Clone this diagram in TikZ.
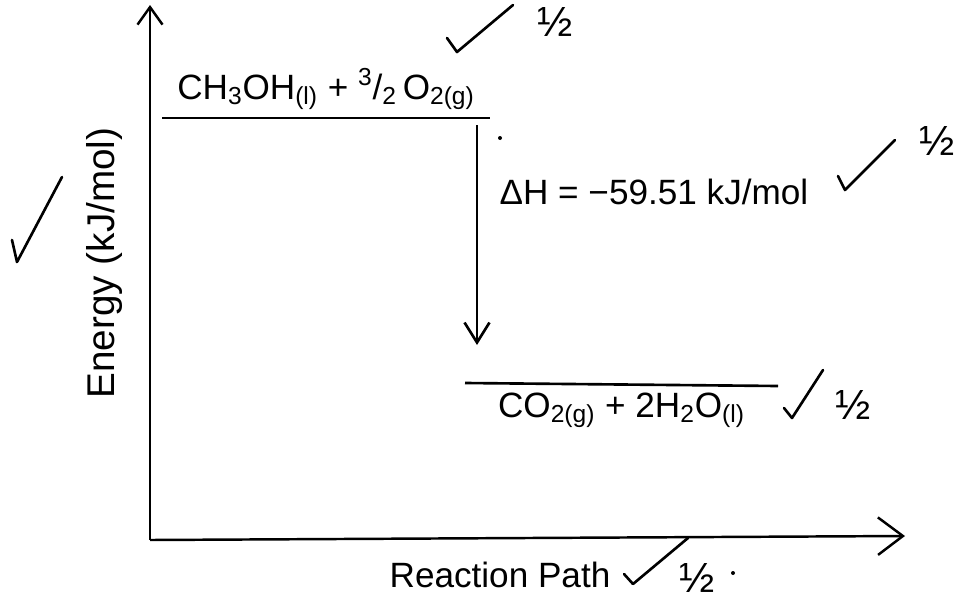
\documentclass[tikz,border=0pt]{standalone}
\usepackage{fontspec}
\setmainfont{Liberation Sans}
\usetikzlibrary{arrows.meta,positioning}

\begin{document}
\begin{tikzpicture}[
  x=0.02cm, y=-0.02cm,
  axis/.style={line width=1.4pt,-{Straight Barb[length=5mm,width=7.5mm]}},
  yaxis/.style={line width=1.4pt,-{Straight Barb[length=3.5mm,width=5mm]}},
  level/.style={line width=1.5pt},
  arr/.style={line width=1.5pt,-{Straight Barb[length=4mm,width=5mm]}},
  lbl/.style={font=\fontsize{20}{24}\selectfont,inner sep=3pt},
  grademark/.style={font=\fontsize{24}{28}\selectfont,inner sep=0pt},
  tick/.style={line width=1.5pt,line cap=round,line join=round}
]
\useasboundingbox (0,0) rectangle (963,605);
% axes
\coordinate (o) at (150,540);
\coordinate (ytop) at (150,5);
\coordinate (xend) at (905,536);
\draw[yaxis] (o) -- (ytop);
\draw[axis] (o) -- (xend);
\node[lbl,rotate=90,font=\fontsize{22}{26}\selectfont] (ylab) at (105,263) {Energy (kJ/mol)};
\node[lbl] (xlab) at (500,575) {Reaction Path};
% levels
\coordinate (r1) at (162,118);
\coordinate (r2) at (490,118);
\coordinate (p1) at (465,383);
\coordinate (p2) at (778,386);
\draw[level] (r1) -- node[lbl,above=1pt] (react) {CH\textsubscript{3}OH\textsubscript{(l)} + \textsuperscript{3}/\textsubscript{2}\,O\textsubscript{2(g)}} (r2);
\draw[level] (p1) -- node[lbl,below=1pt] (prod) {CO\textsubscript{2(g)} + 2H\textsubscript{2}O\textsubscript{(l)}} (p2);
% enthalpy change
\coordinate (dtop) at (477,125);
\coordinate (dbot) at (477,345);
\draw[arr] (dtop) -- (dbot);
\node[lbl,anchor=west] (dh) at (494,192) {ΔH = −59.51 kJ/mol};
% marks
\draw[tick] (447,38) -- (457,52) -- (513,5);
\node[grademark] (m1) at (555,22) {½};
\draw[tick] (838,176) -- (845,190) -- (895,140);
\node[grademark] (m2) at (937,141) {½};
\draw[tick] (784,408) -- (792,418) -- (823,370);
\node[grademark] (m3) at (853,405) {½};
\draw[tick] (624,574) -- (633,584) -- (688,538);
\node[grademark] (m4) at (697,578) {½};
\draw[tick] (12,240) -- (17,262) -- (62,177);
\fill (500,138) circle (2);
\fill (733,573) circle (2);
\end{tikzpicture}
\end{document}
